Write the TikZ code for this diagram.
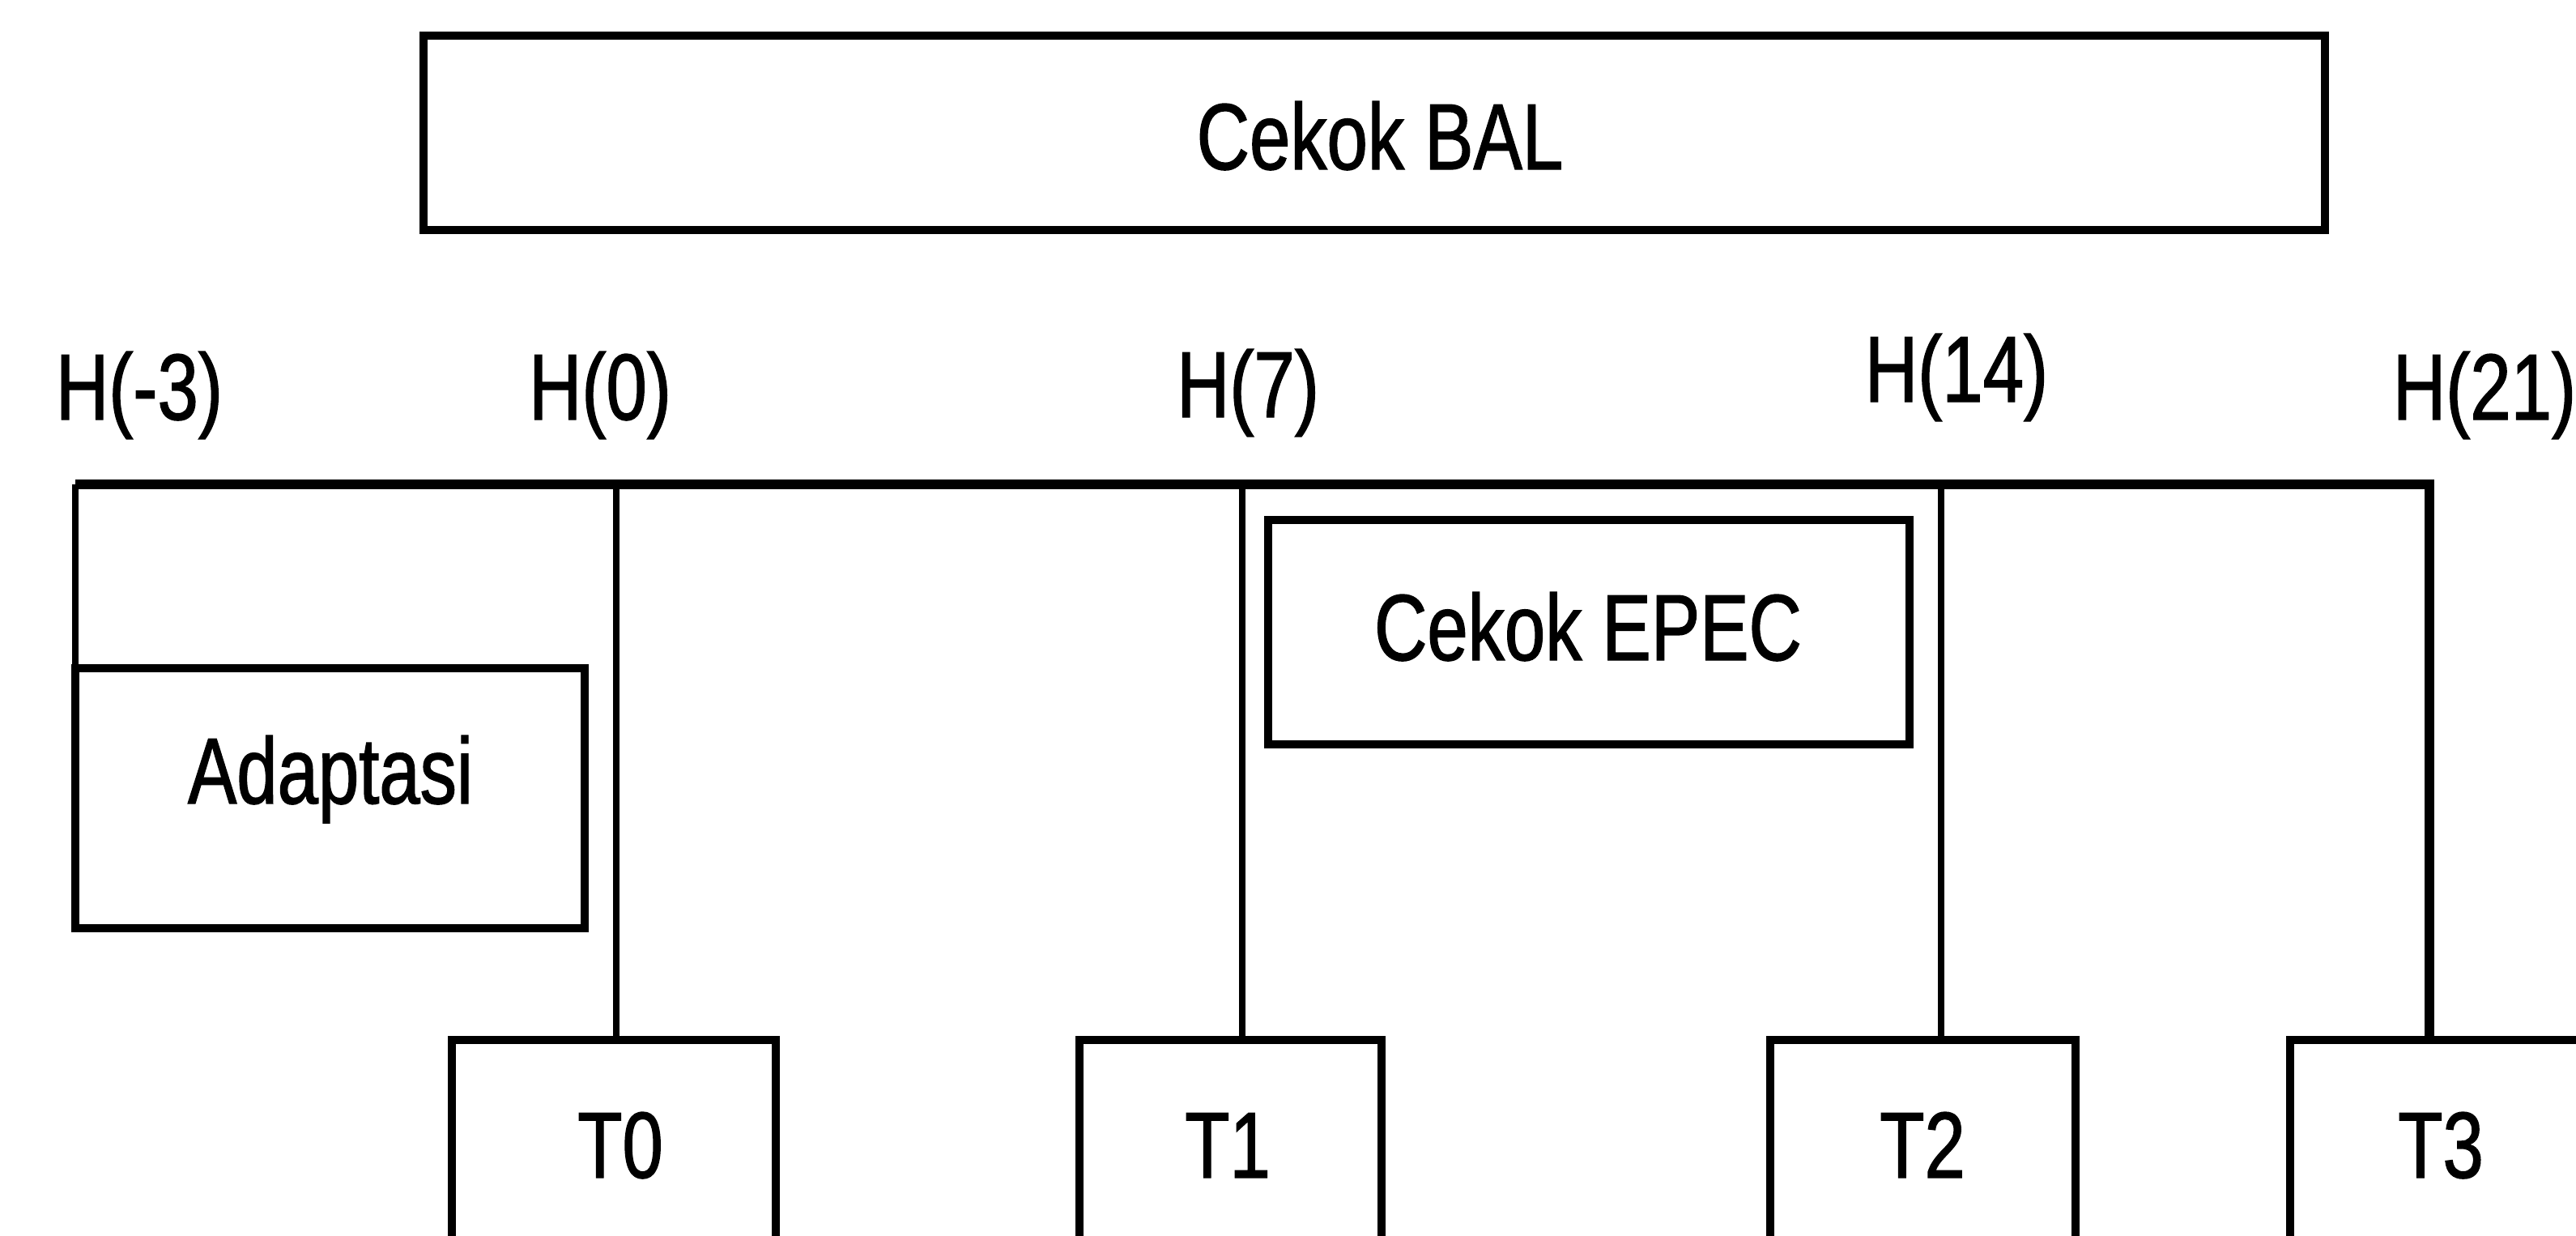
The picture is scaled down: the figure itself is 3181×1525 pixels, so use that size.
\documentclass[tikz,border=0pt]{standalone}
\usepackage{fontspec}
\setmainfont{Liberation Sans}[FakeStretch=0.78,FakeBold=1.2]
\begin{document}
\begin{tikzpicture}[x=0.1mm,y=-0.1mm,
  box/.style={draw,line width=3.1pt,inner sep=0pt,outer sep=0pt,anchor=north west},
  conn/.style={line width=2.2pt},
  busline/.style={line width=3.6pt,line join=miter},
  lab/.style={inner sep=0pt,anchor=base,font=\fontsize{33pt}{40pt}\selectfont}]
\clip (0,0) rectangle (3181,1525);
\fill[white] (0,0) rectangle (3181,1525);
% boxes
\node[box,minimum width=234.8mm,minimum height=24.0mm] (bal) at (523,44) {};
\node[box,minimum width=62.9mm,minimum height=32.1mm] (adapt) at (93,825) {};
\node[box,minimum width=79.2mm,minimum height=27.7mm] (epec) at (1566,642) {};
\node[box,minimum width=40.0mm,minimum height=30mm] (t0) at (558,1284) {};
\node[box,minimum width=37.3mm,minimum height=30mm] (t1) at (1333,1284) {};
\node[box,minimum width=37.7mm,minimum height=30mm] (t2) at (2186,1284) {};
\node[box,minimum width=38.2mm,minimum height=30mm] (t3) at (2828,1284) {};
% texts
\node[lab] (balt) at (1704,209) {Cekok BAL};
\node[lab] (adaptt) at (408,992) {Adaptasi};
\node[lab] (epect) at (1961,815) {Cekok EPEC};
\node[lab] (t0t) at (766,1454) {T0};
\node[lab] (t1t) at (1516,1454) {T1};
\node[lab] (t2t) at (2374,1454) {T2};
\node[lab] (t3t) at (3014,1454) {T3};
\node[lab] (hm3) at (172,518) {H(-3)};
\node[lab] (h0) at (741,518) {H(0)};
\node[lab] (h7) at (1541,515) {H(7)};
\node[lab] (h14) at (2416,496) {H(14)};
\node[lab] (h21) at (3068,518) {H(21)};
% bus and connectors
\coordinate (busL) at (93,598);
\coordinate (busR) at (3000,598);
\coordinate (j0) at (761,598);
\coordinate (j1) at (1534,598);
\coordinate (j2) at (2397,598);
\draw[busline] (busL) -- (busR) -- (busR |- t3.north);
\draw[conn] (busL) -- (adapt.north west);
\draw[conn] (j0) -- (j0 |- t0.north);
\draw[conn] (j1) -- (j1 |- t1.north);
\draw[conn] (j2) -- (j2 |- t2.north);
\end{tikzpicture}
\end{document}
